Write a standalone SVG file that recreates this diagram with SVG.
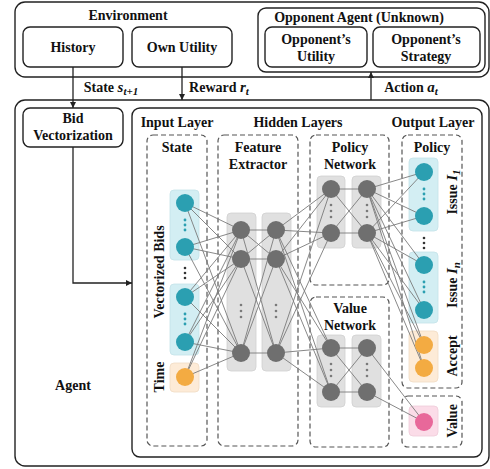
<svg xmlns="http://www.w3.org/2000/svg" width="490" height="469" viewBox="0 0 490 469">
<style>
text{font-family:"Liberation Serif","Times New Roman",serif;font-weight:bold;font-size:14px;fill:#111;text-anchor:middle}
.box{fill:#fff;stroke:#222;stroke-width:1.4}
.dash{fill:none;stroke:#555;stroke-width:1.2;stroke-dasharray:5,3}
.arrow{fill:none;stroke:#222;stroke-width:1.3}
.conn{stroke:#7a7a7a;stroke-width:0.9;fill:none}
.gbox{fill:#e0e0e0;stroke:#d0d0d0;stroke-width:0.8}
.cbox{fill:#d3eef3;stroke:#c4e2e8;stroke-width:0.8}
.obox{fill:#fdebd7;stroke:#f0dcc4;stroke-width:0.8}
.pbox{fill:#fbdce8;stroke:#efcbd9;stroke-width:0.8}
.gn{fill:#6f6f6f}
.cn{fill:#2b9fb1}
.on{fill:#f3ab42}
.pn{fill:#e8689a}
.gd{fill:#7a7a7a}
.cd{fill:#2b9fb1}
.kd{fill:#333}
.it{font-style:italic;font-size:15px}
.sub{font-size:11px;font-style:italic}
</style>
<defs>
<marker id="ah" markerUnits="userSpaceOnUse" markerWidth="7" markerHeight="7" refX="6" refY="3" orient="auto">
<path d="M0,0 L6,3 L0,6 z" fill="#222"/>
</marker>
</defs>

<g id="environment">
<rect class="box" x="15" y="2" width="474" height="75" rx="10"/>
<text x="128" y="20">Environment</text>
</g>
<g id="history">
<rect class="box" x="23" y="27" width="100" height="40" rx="7"/>
<text x="73" y="52">History</text>
</g>
<g id="own-utility">
<rect class="box" x="132" y="27" width="100" height="40" rx="7"/>
<text x="182" y="52">Own Utility</text>
</g>
<g id="opponent-agent">
<rect class="box" x="258" y="8" width="227" height="64" rx="8"/>
<text x="359" y="22">Opponent Agent (Unknown)</text>
</g>
<g id="opponent-utility">
<rect class="box" x="265" y="27" width="102" height="40" rx="7"/>
<text x="316" y="44">Opponent’s</text>
<text x="316" y="61">Utility</text>
</g>
<g id="opponent-strategy">
<rect class="box" x="373" y="27" width="107" height="40" rx="7"/>
<text x="426" y="44">Opponent’s</text>
<text x="426" y="61">Strategy</text>
</g>

<g id="agent">
<rect class="box" x="15" y="100" width="474" height="366" rx="10"/>
<text x="73" y="390">Agent</text>
</g>
<g id="bid-vectorization">
<rect class="box" x="23" y="108" width="100" height="39" rx="7"/>
<text x="73" y="123">Bid</text>
<text x="73" y="140">Vectorization</text>
</g>
<g id="neural-network">
<rect class="box" x="132" y="108" width="350" height="349" rx="8"/>
<text x="177" y="127">Input Layer</text>
<text x="298" y="127">Hidden Layers</text>
<text x="433" y="127">Output Layer</text>
</g>

<g id="state-layer">
<rect class="dash" x="147" y="135" width="60" height="311" rx="6"/>
<text x="177" y="152">State</text>
</g>
<g id="feature-extractor">
<rect class="dash" x="218" y="135" width="80" height="311" rx="6"/>
<text x="258" y="152">Feature</text>
<text x="258" y="169">Extractor</text>
</g>
<g id="policy-network">
<rect class="dash" x="310" y="135" width="79" height="150" rx="6"/>
<text x="350" y="152">Policy</text>
<text x="350" y="169">Network</text>
</g>
<g id="value-network">
<rect class="dash" x="310" y="297" width="79" height="150" rx="6"/>
<text x="350" y="313">Value</text>
<text x="350" y="330">Network</text>
</g>
<g id="policy-output">
<rect class="dash" x="402" y="135" width="60" height="253" rx="6"/>
<text x="432" y="152">Policy</text>
</g>
<g id="value-output">
<rect class="dash" x="402" y="396" width="60" height="51" rx="6"/>
</g>

<g id="layer-backgrounds">
<rect class="cbox" x="170" y="190" width="29" height="70" rx="4"/>
<rect class="cbox" x="170" y="284" width="29" height="71" rx="4"/>
<rect class="obox" x="170" y="363" width="29" height="29" rx="4"/>
<rect class="gbox" x="227" y="213" width="29" height="158" rx="4"/>
<rect class="gbox" x="262" y="213" width="29" height="158" rx="4"/>
<rect class="gbox" x="317" y="176" width="28" height="72" rx="4"/>
<rect class="gbox" x="352" y="176" width="29" height="72" rx="4"/>
<rect class="gbox" x="317" y="335" width="28" height="72" rx="4"/>
<rect class="gbox" x="352" y="335" width="29" height="72" rx="4"/>
<rect class="cbox" x="409" y="158" width="29" height="73" rx="4"/>
<rect class="cbox" x="409" y="252" width="29" height="71" rx="4"/>
<rect class="obox" x="409" y="331" width="29" height="51" rx="4"/>
<rect class="pbox" x="409" y="406" width="29" height="30" rx="4"/>
</g>

<g id="connectors">
<path class="arrow" d="M73,67 V108" marker-end="url(#ah)"/>
<path class="arrow" d="M182,67 V100" marker-end="url(#ah)"/>
<path class="arrow" d="M371,100 V72" marker-end="url(#ah)"/>
<path class="arrow" d="M73,147 V283 H132" marker-end="url(#ah)"/>
<g class="conn">
<path d="M185,203 L241,230 M185,203 L241,259 M185,203 L241,353"/>
<path d="M185,247 L241,230 M185,247 L241,259 M185,247 L241,353"/>
<path d="M185,297 L241,230 M185,297 L241,259 M185,297 L241,353"/>
<path d="M185,342 L241,230 M185,342 L241,259 M185,342 L241,353"/>
<path d="M185,377 L241,230 M185,377 L241,259 M185,377 L241,353"/>
<path d="M241,230 L276,230 M241,230 L276,259 M241,230 L276,353"/>
<path d="M241,259 L276,230 M241,259 L276,259 M241,259 L276,353"/>
<path d="M241,353 L276,230 M241,353 L276,259 M241,353 L276,353"/>
<path d="M276,230 L331,189 M276,230 L331,233 M276,230 L331,348 M276,230 L331,392"/>
<path d="M276,259 L331,189 M276,259 L331,233 M276,259 L331,348 M276,259 L331,392"/>
<path d="M276,353 L331,189 M276,353 L331,233 M276,353 L331,348 M276,353 L331,392"/>
<path d="M331,189 L367,189 M331,189 L367,233 M331,233 L367,189 M331,233 L367,233"/>
<path d="M331,348 L367,348 M331,348 L367,392 M331,392 L367,348 M331,392 L367,392"/>
<path d="M367,189 L424,172 M367,189 L424,216 M367,189 L424,265 M367,189 L424,310 M367,189 L424,345 M367,189 L424,368"/>
<path d="M367,233 L424,172 M367,233 L424,216 M367,233 L424,265 M367,233 L424,310 M367,233 L424,345 M367,233 L424,368"/>
<path d="M367,348 L424,422 M367,392 L424,422"/>
</g>
<text x="111" y="92">State <tspan class="it">s</tspan><tspan class="sub" dy="3">t+1</tspan></text>
<text x="219" y="92">Reward <tspan class="it">r</tspan><tspan class="sub" dy="3">t</tspan></text>
<text x="411" y="92">Action <tspan class="it">a</tspan><tspan class="sub" dy="3">t</tspan></text>
</g>

<g id="input-vectorized-bids">
<circle class="cn" cx="185" cy="203" r="9"/>
<circle class="cn" cx="185" cy="247" r="9"/>
<circle class="cd" cx="185" cy="220" r="1.4"/><circle class="cd" cx="185" cy="225" r="1.4"/><circle class="cd" cx="185" cy="230" r="1.4"/>
<circle class="kd" cx="185" cy="268" r="1.3"/><circle class="kd" cx="185" cy="273" r="1.3"/><circle class="kd" cx="185" cy="278" r="1.3"/>
<circle class="cn" cx="185" cy="297" r="9"/>
<circle class="cn" cx="185" cy="342" r="9"/>
<circle class="cd" cx="185" cy="314" r="1.4"/><circle class="cd" cx="185" cy="319" r="1.4"/><circle class="cd" cx="185" cy="324" r="1.4"/>
<text transform="translate(164,272) rotate(-90)">Vectorized Bids</text>
</g>
<g id="input-time">
<circle class="on" cx="185" cy="377" r="9"/>
<text transform="translate(164,377) rotate(-90)">Time</text>
</g>
<g id="feature-neurons">
<circle class="gn" cx="241" cy="230" r="9"/><circle class="gn" cx="241" cy="259" r="9"/><circle class="gn" cx="241" cy="353" r="9"/>
<circle class="gn" cx="276" cy="230" r="9"/><circle class="gn" cx="276" cy="259" r="9"/><circle class="gn" cx="276" cy="353" r="9"/>
<circle class="gd" cx="241" cy="305" r="1.3"/><circle class="gd" cx="241" cy="311" r="1.3"/><circle class="gd" cx="241" cy="317" r="1.3"/>
<circle class="gd" cx="276" cy="305" r="1.3"/><circle class="gd" cx="276" cy="311" r="1.3"/><circle class="gd" cx="276" cy="317" r="1.3"/>
</g>
<g id="policy-neurons">
<circle class="gn" cx="331" cy="189" r="9"/><circle class="gn" cx="331" cy="233" r="9"/>
<circle class="gn" cx="367" cy="189" r="9"/><circle class="gn" cx="367" cy="233" r="9"/>
<circle class="gd" cx="331" cy="205" r="1.3"/><circle class="gd" cx="331" cy="211" r="1.3"/><circle class="gd" cx="331" cy="217" r="1.3"/>
<circle class="gd" cx="367" cy="205" r="1.3"/><circle class="gd" cx="367" cy="211" r="1.3"/><circle class="gd" cx="367" cy="217" r="1.3"/>
</g>
<g id="value-neurons">
<circle class="gn" cx="331" cy="348" r="9"/><circle class="gn" cx="331" cy="392" r="9"/>
<circle class="gn" cx="367" cy="348" r="9"/><circle class="gn" cx="367" cy="392" r="9"/>
<circle class="gd" cx="331" cy="364" r="1.3"/><circle class="gd" cx="331" cy="370" r="1.3"/><circle class="gd" cx="331" cy="376" r="1.3"/>
<circle class="gd" cx="367" cy="364" r="1.3"/><circle class="gd" cx="367" cy="370" r="1.3"/><circle class="gd" cx="367" cy="376" r="1.3"/>
</g>
<g id="output-issue-1">
<circle class="cn" cx="424" cy="172" r="9"/><circle class="cn" cx="424" cy="216" r="9"/>
<circle class="cd" cx="424" cy="189" r="1.4"/><circle class="cd" cx="424" cy="194" r="1.4"/><circle class="cd" cx="424" cy="199" r="1.4"/>
<text transform="translate(457,192) rotate(-90)">Issue <tspan class="it">I</tspan><tspan class="sub" dy="3">1</tspan></text>
</g>
<g id="output-issue-gap">
<circle class="kd" cx="424" cy="238" r="1.3"/><circle class="kd" cx="424" cy="243" r="1.3"/><circle class="kd" cx="424" cy="248" r="1.3"/>
</g>
<g id="output-issue-n">
<circle class="cn" cx="424" cy="265" r="9"/><circle class="cn" cx="424" cy="310" r="9"/>
<circle class="cd" cx="424" cy="282" r="1.4"/><circle class="cd" cx="424" cy="287" r="1.4"/><circle class="cd" cx="424" cy="292" r="1.4"/>
<text transform="translate(457,285) rotate(-90)">Issue <tspan class="it">I</tspan><tspan class="sub" dy="3">n</tspan></text>
</g>
<g id="output-accept">
<circle class="on" cx="424" cy="345" r="9"/><circle class="on" cx="424" cy="368" r="9"/>
<text transform="translate(457,356) rotate(-90)">Accept</text>
</g>
<g id="output-value">
<circle class="pn" cx="424" cy="422" r="9"/>
<text transform="translate(457,421) rotate(-90)">Value</text>
</g>
</svg>
